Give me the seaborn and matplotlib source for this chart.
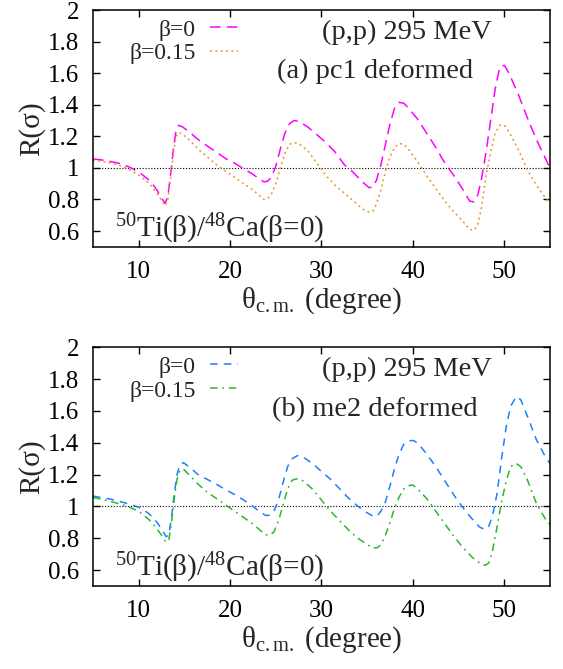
import numpy as np
import pandas as pd
import matplotlib
matplotlib.use("Agg")
import matplotlib.pyplot as plt
import seaborn as sns

# ---- pc1 deformed (panel a) ----
theta_a = [5, 6, 7, 8, 9, 10, 11, 11.5, 12, 12.5, 12.9, 13.2, 13.5, 13.8, 14.1, 14.4,
           14.8, 15.5, 16.5, 17.5, 18.5, 19.5, 20.5, 21.5, 22.5, 23.2, 23.7, 24.1, 24.5,
           25, 25.5, 26, 26.5, 27, 27.5, 28.5, 29.5, 30.5, 31.5, 32.5, 33.5, 34.5, 35.2,
           35.6, 36, 36.5, 37, 37.5, 38, 38.5, 39, 39.5, 40.5, 41.5, 42.5, 43.5, 44.5,
           45.5, 46.2, 46.7, 47.1, 47.5, 48, 48.5, 49, 49.5, 50, 50.5, 51.5, 52.5, 53.5,
           54.5, 55]
pc1_beta0 = [1.057, 1.05, 1.04, 1.027, 1.005, 0.975, 0.93, 0.9, 0.86, 0.81, 0.776, 0.82,
             0.96, 1.12, 1.24, 1.27, 1.26, 1.23, 1.18, 1.14, 1.10, 1.06, 1.03, 0.995, 0.96,
             0.93, 0.912, 0.915, 0.94, 1.01, 1.12, 1.22, 1.28, 1.30, 1.295, 1.26, 1.21,
             1.16, 1.10, 1.02, 0.97, 0.91, 0.875, 0.878, 0.92, 1.02, 1.15, 1.28, 1.38,
             1.415, 1.41, 1.38, 1.31, 1.22, 1.13, 1.03, 0.95, 0.86, 0.79, 0.785, 0.83,
             0.93, 1.10, 1.30, 1.50, 1.64, 1.65, 1.60, 1.47, 1.32, 1.18, 1.06, 0.995]
pc1_beta015 = [1.05, 1.04, 1.03, 1.015, 0.99, 0.955, 0.91, 0.88, 0.84, 0.795, 0.76, 0.80,
               0.94, 1.09, 1.20, 1.225, 1.215, 1.18, 1.12, 1.07, 1.02, 0.98, 0.94, 0.90,
               0.86, 0.825, 0.80, 0.805, 0.83, 0.90, 1.00, 1.09, 1.15, 1.16, 1.155, 1.11,
               1.03, 0.95, 0.89, 0.84, 0.79, 0.74, 0.72, 0.725, 0.77, 0.86, 0.98, 1.07,
               1.13, 1.155, 1.15, 1.12, 1.04, 0.95, 0.87, 0.79, 0.72, 0.66, 0.61, 0.605,
               0.64, 0.75, 0.95, 1.10, 1.22, 1.27, 1.27, 1.23, 1.12, 0.99, 0.89, 0.81, 0.775]

# ---- me2 deformed (panel b) ----
theta_b = [5, 6, 7, 8, 9, 10, 11, 11.5, 12, 12.5, 13, 13.3, 13.6, 13.9, 14.2, 14.5, 14.9,
           15.5, 16.5, 17.5, 18.5, 19.5, 20.5, 21.5, 22.5, 23.3, 23.9, 24.4, 24.8, 25.3,
           25.8, 26.3, 26.8, 27.4, 28, 29, 30, 31, 32, 33, 34, 35, 35.6, 36.1, 36.5, 37,
           37.5, 38, 38.5, 39, 39.5, 40, 40.5, 41.5, 42.5, 43.5, 44.5, 45.5, 46.5, 47.3,
           47.9, 48.3, 48.7, 49.2, 49.7, 50.2, 50.7, 51.3, 51.8, 52.5, 53.5, 54.5, 55]
me2_beta0 = [1.065, 1.055, 1.045, 1.03, 1.015, 0.995, 0.96, 0.935, 0.90, 0.86, 0.81, 0.82,
             0.93, 1.08, 1.20, 1.26, 1.275, 1.25, 1.20, 1.17, 1.14, 1.105, 1.075, 1.04,
             1.00, 0.965, 0.943, 0.945, 0.97, 1.04, 1.15, 1.25, 1.30, 1.32, 1.31, 1.27,
             1.22, 1.17, 1.11, 1.05, 1.00, 0.96, 0.94, 0.94, 0.97, 1.03, 1.13, 1.24, 1.33,
             1.39, 1.41, 1.415, 1.40, 1.33, 1.25, 1.16, 1.07, 0.99, 0.92, 0.87, 0.855,
             0.875, 0.94, 1.08, 1.30, 1.50, 1.63, 1.69, 1.67, 1.57, 1.42, 1.31, 1.27]
me2_beta015 = [1.055, 1.045, 1.03, 1.015, 0.995, 0.97, 0.925, 0.895, 0.86, 0.82, 0.775,
               0.79, 0.90, 1.05, 1.17, 1.225, 1.235, 1.20, 1.14, 1.09, 1.05, 1.01, 0.97,
               0.93, 0.89, 0.85, 0.822, 0.82, 0.84, 0.91, 1.01, 1.11, 1.165, 1.175, 1.16,
               1.11, 1.04, 0.97, 0.91, 0.85, 0.80, 0.76, 0.74, 0.74, 0.76, 0.82, 0.90,
               0.99, 1.06, 1.11, 1.13, 1.135, 1.11, 1.05, 0.97, 0.89, 0.81, 0.74, 0.68,
               0.645, 0.63, 0.645, 0.72, 0.87, 1.03, 1.16, 1.25, 1.27, 1.25, 1.17, 1.02,
               0.92, 0.886]

beta_labels = ["β=0", "β=0.15"]
panel_titles = ["(a) pc1 deformed", "(b) me2 deformed"]
reaction_label = "(p,p) 295 MeV"
ratio_label = r"$^{50}$Ti(β)/$^{48}$Ca(β=0)"
xticks = [10, 20, 30, 40, 50]
yticks = [0.6, 0.8, 1.0, 1.2, 1.4, 1.6, 1.8, 2.0]
ytick_labels = ["0.6", "0.8", "1", "1.2", "1.4", "1.6", "1.8", "2"]

sns.set_theme(style="ticks")
plt.rcParams.update({
    "font.family": ["Liberation Serif", "DejaVu Serif"],
    "mathtext.fontset": "custom",
    "mathtext.rm": "Liberation Serif",
    "mathtext.it": "Liberation Serif",
    "axes.linewidth": 1.1,
})

fig = plt.figure(figsize=(5.63, 6.69), dpi=100)
ax_a = fig.add_axes([0.165, 0.631, 0.812, 0.354])
ax_b = fig.add_axes([0.165, 0.124, 0.812, 0.357])

panels = [
    (ax_a, theta_a, pc1_beta0, pc1_beta015,
     ("#ff00ff", (0, (7, 4))), ("#e8952d", (0, (1.3, 2.2)))),
    (ax_b, theta_b, me2_beta0, me2_beta015,
     ("#1a80ff", (0, (5, 4))), ("#2cb82c", (0, (5, 3, 1.2, 3)))),
]

for i, (ax, th, y0, y1, st0, st1) in enumerate(panels):
    df = pd.DataFrame({"theta": th, "b0": y0, "b1": y1})
    ax.axhline(1.0, color="black", lw=0.8, ls=(0, (1, 1.6)), zorder=1)
    sns.lineplot(data=df, x="theta", y="b0", ax=ax, color=st0[0], lw=1.1,
                 linestyle=st0[1], label=beta_labels[0], estimator=None, sort=False)
    sns.lineplot(data=df, x="theta", y="b1", ax=ax, color=st1[0], lw=1.1,
                 linestyle=st1[1], label=beta_labels[1], estimator=None, sort=False)

    ax.set_xlim(5, 55)
    ax.set_ylim(0.5, 2.0)
    ax.set_xticks(xticks)
    ax.set_yticks(yticks)
    ax.set_yticklabels(ytick_labels)
    ax.tick_params(direction="in", length=5, width=1.0, top=True, right=True,
                   labelsize=18, pad=10, colors="black")
    for sp in ax.spines.values():
        sp.set_visible(True)
        sp.set_color("black")
    ax.set_ylabel("R(σ)", fontsize=21, labelpad=2)
    ax.set_xlabel(r"θ$_{\rm c.m.}$ (degree)", fontsize=21, labelpad=2)

    ax.legend(loc="upper right", bbox_to_anchor=(0.337, 1.0), frameon=False,
              markerfirst=False, fontsize=17, handlelength=1.2,
              handletextpad=0.6, labelspacing=0.1, borderaxespad=0.0,
              borderpad=0.38)
    ax.text(0.687, 0.905, reaction_label, transform=ax.transAxes, fontsize=20.5,
            ha="center", va="center")
    ax.text(0.617, 0.74, panel_titles[i], transform=ax.transAxes, fontsize=20.5,
            ha="center", va="center")
    ax.text(0.048, 0.042, ratio_label, transform=ax.transAxes, fontsize=21,
            ha="left", va="baseline")

fig.savefig("out.png", dpi=100)
